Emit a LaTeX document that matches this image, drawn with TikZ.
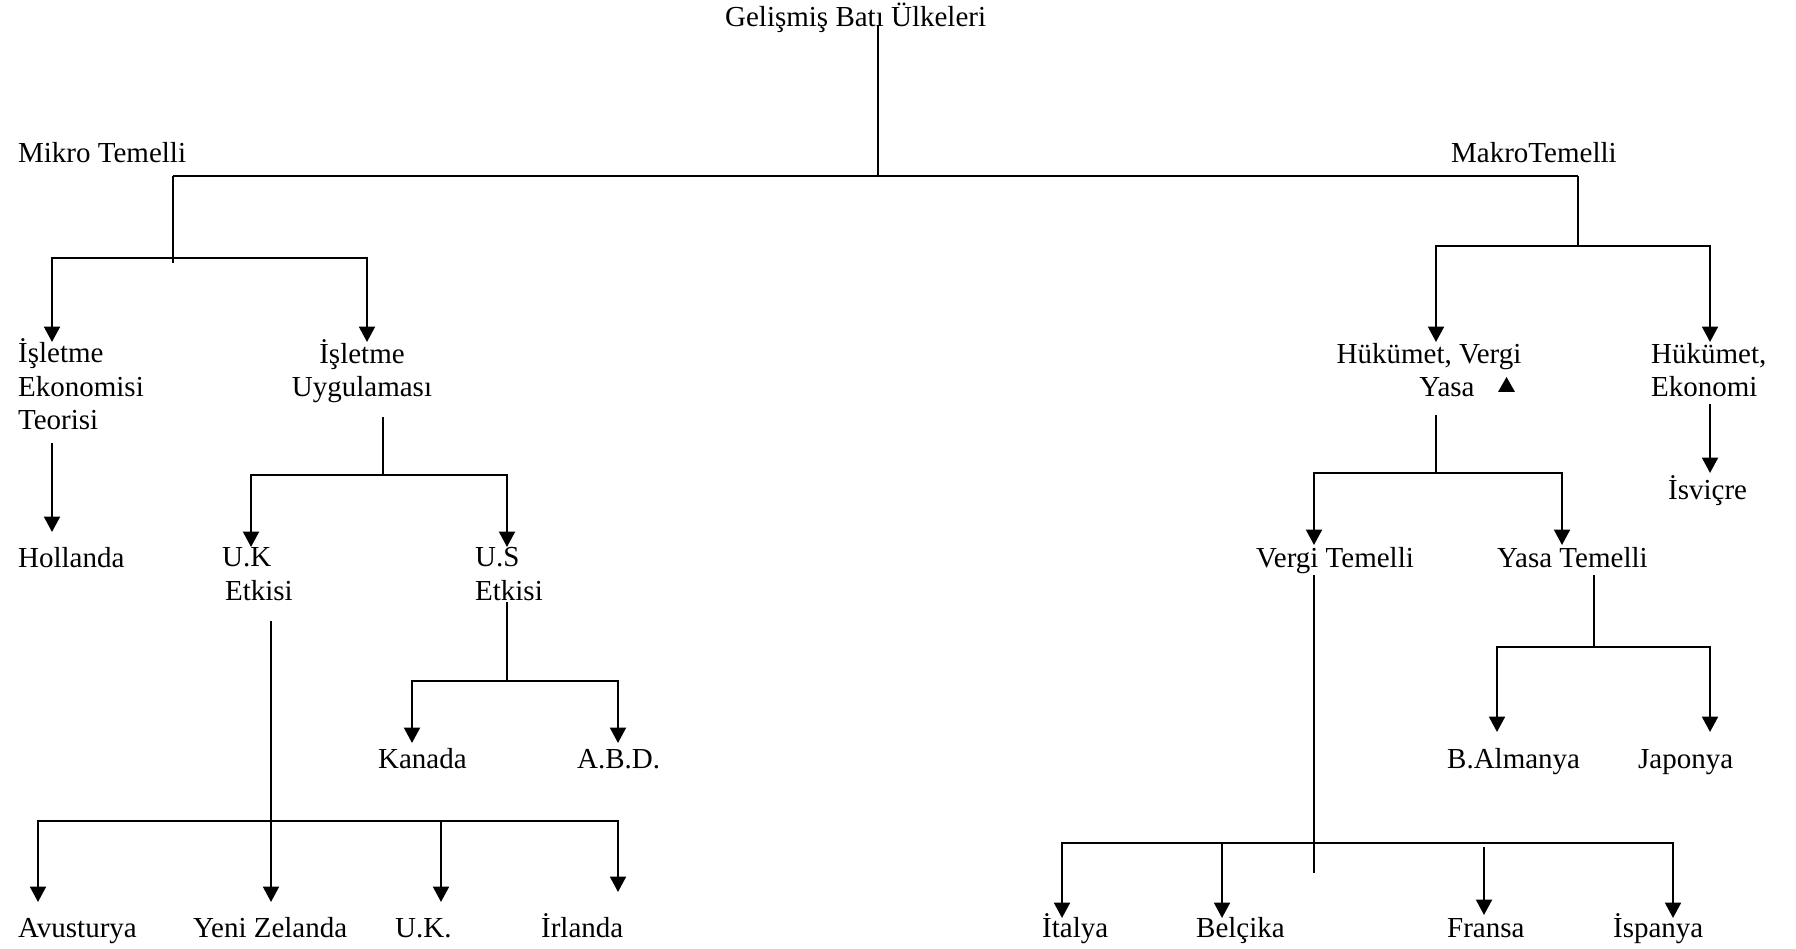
\documentclass[tikz,border=0pt]{standalone}
\usepackage{fontspec}
\setmainfont{Liberation Serif}
\usetikzlibrary{arrows.meta}

\begin{document}
\begin{tikzpicture}[scale=0.14545,line width=0.95pt,
  every node/.append style={font=\fontsize{12}{13.9}\selectfont},
  lbl/.style={anchor=base west},
  lblc/.style={anchor=base,align=center},
  lbll/.style={anchor=base west,align=left},
  arr/.style={-{Triangle[width=6.6pt,length=6.4pt]}},
  arrs/.style={{Triangle[width=6.6pt,length=6.4pt]}-{Triangle[width=6.6pt,length=6.4pt]}}]
\tikzstyle{every node}+=[inner sep=0pt]
\useasboundingbox (0,0) rectangle (179.6,-94.9);
% labels (multi-line ones sit on the baseline of their last line)
\node[lbl] (root) at (72.4,-2.7) {Gelişmiş Batı Ülkeleri};
\node[lbl] (mikro) at (1.7,-16.3) {Mikro Temelli};
\node[lbl] (makro) at (145.0,-16.3) {MakroTemelli};
\node[lbll] (iet) at (1.7,-43.0) {İşletme\\Ekonomisi\\Teorisi};
\node[lblc] (iu) at (36.2,-39.7) {İşletme\\Uygulaması};
\node[lbl] (hol) at (1.7,-56.7) {Hollanda};
\node[lbll] (uk) at (22.1,-60.0) {U.K\\\hspace*{0.1em}Etkisi};
\node[lbll] (us) at (47.4,-60.0) {U.S\\Etkisi};
\node[lbl] (kan) at (37.7,-76.8) {Kanada};
\node[lbl] (abd) at (57.6,-76.8) {A.B.D.};
\node[lbl] (avu) at (1.7,-93.7) {Avusturya};
\node[lbl] (yz) at (19.2,-93.7) {Yeni Zelanda};
\node[lbl] (ukk) at (39.4,-93.7) {U.K.};
\node[lbl] (irl) at (54.0,-93.7) {İrlanda};
\node[lblc] (hvy) at (142.9,-39.7) {Hükümet, Vergi\\\hspace*{1.24em}Yasa};
\node[lbll] (he) at (165.0,-39.7) {Hükümet,\\Ekonomi};
\node[lbl] (isv) at (166.7,-49.9) {İsviçre};
\node[lbl] (vt) at (125.5,-56.7) {Vergi Temelli};
\node[lbl] (yt) at (149.6,-56.7) {Yasa Temelli};
\node[lbl] (bal) at (144.6,-76.8) {B.Almanya};
\node[lbl] (jap) at (163.7,-76.8) {Japonya};
\node[lbl] (ita) at (104.1,-93.7) {İtalya};
\node[lbl] (bel) at (119.5,-93.7) {Belçika};
\node[lbl] (fra) at (144.6,-93.7) {Fransa};
\node[lbl] (isp) at (161.2,-93.7) {İspanya};
% top bar
\coordinate (r0) at (87.8,-2.5);
\coordinate (r1) at (87.8,-17.6);
\draw (r0) -- (r1);
\coordinate (m0) at (17.3,-17.6);
\coordinate (m1) at (157.8,-17.6);
\draw (m0) -- (m1);
\coordinate (mi) at (17.3,-26.3);
\coordinate (mib) at (17.3,-25.8);
\draw (m0) -- (mi);
\coordinate (ma) at (157.8,-24.6);
\draw (m1) -- (ma);
% mikro side
\coordinate (iet-t) at (5.2,-34.2);
\coordinate (iu-t) at (36.7,-34.2);
\draw[arrs] (iet-t) |- (mib -| iu-t) -- (iu-t);
\coordinate (iet-b) at (5.2,-44.3);
\coordinate (hol-t) at (5.2,-53.2);
\draw[arr] (iet-b) -- (hol-t);
\coordinate (iu-b) at (38.3,-41.7);
\coordinate (iu-j) at (38.3,-47.5);
\draw (iu-b) -- (iu-j);
\coordinate (uk-t) at (25.1,-54.7);
\coordinate (us-t) at (50.7,-54.7);
\draw[arrs] (uk-t) |- (iu-j -| us-t) -- (us-t);
\coordinate (us-b) at (50.7,-60.2);
\coordinate (us-j) at (50.7,-68.1);
\draw (us-b) -- (us-j);
\coordinate (kan-t) at (41.2,-74.3);
\coordinate (abd-t) at (61.8,-74.3);
\draw[arrs] (kan-t) |- (us-j -| abd-t) -- (abd-t);
\coordinate (uk-b) at (27.1,-62.1);
\coordinate (yz-t) at (27.1,-90.2);
\draw[arr] (uk-b) -- (yz-t);
\coordinate (uk-j) at (27.1,-82.1);
\coordinate (avu-t) at (3.8,-90.2);
\coordinate (ukk-t) at (44.1,-90.2);
\coordinate (irl-t) at (61.8,-89.2);
\draw[arrs] (avu-t) |- (uk-j -| irl-t) -- (irl-t);
\draw[arr] (uk-j -| ukk-t) -- (ukk-t);
% makro side
\coordinate (hvy-t) at (143.6,-34.2);
\coordinate (he-t) at (171.0,-34.2);
\draw[arrs] (hvy-t) |- (ma -| he-t) -- (he-t);
\fill (149.8,-39.2) -- (151.5,-39.2) -- (150.65,-37.7) -- cycle;
\coordinate (he-b) at (171.0,-40.4);
\coordinate (isv-t) at (171.0,-47.3);
\draw[arr] (he-b) -- (isv-t);
\coordinate (hvy-b) at (143.6,-41.5);
\coordinate (hvy-j) at (143.6,-47.3);
\draw (hvy-b) -- (hvy-j);
\coordinate (vt-t) at (131.4,-54.5);
\coordinate (yt-t) at (156.2,-54.5);
\draw[arrs] (vt-t) |- (hvy-j -| yt-t) -- (yt-t);
\coordinate (yt-b) at (159.4,-57.5);
\coordinate (yt-j) at (159.4,-64.7);
\draw (yt-b) -- (yt-j);
\coordinate (bal-t) at (149.7,-73.2);
\coordinate (jap-t) at (171.0,-73.2);
\draw[arrs] (bal-t) |- (yt-j -| jap-t) -- (jap-t);
\coordinate (vt-b) at (131.4,-57.5);
\coordinate (vt-e) at (131.4,-87.3);
\draw (vt-b) -- (vt-e);
\coordinate (vt-j) at (131.4,-84.3);
\coordinate (ita-t) at (106.2,-91.8);
\coordinate (bel-t) at (122.2,-91.8);
\coordinate (fra-s) at (148.4,-84.7);
\coordinate (fra-t) at (148.4,-91.5);
\coordinate (isp-t) at (167.3,-91.8);
\draw[arrs] (ita-t) |- (vt-j -| isp-t) -- (isp-t);
\draw[arr] (vt-j -| bel-t) -- (bel-t);
\draw[arr] (fra-s) -- (fra-t);
\end{tikzpicture}
\end{document}
